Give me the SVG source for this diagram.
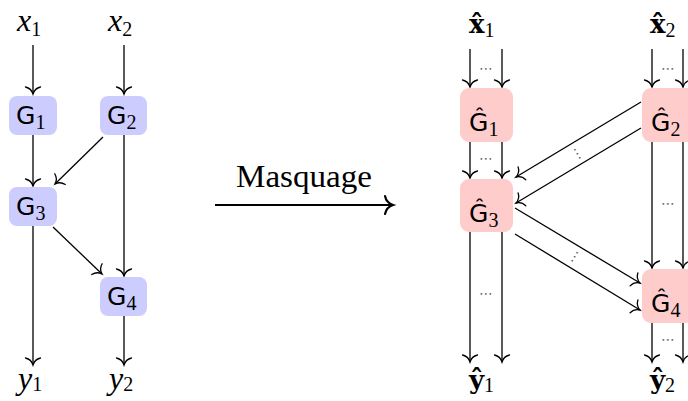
<svg xmlns="http://www.w3.org/2000/svg" width="688" height="401" viewBox="0 0 688 401">
<style>
.bg{fill:#fff}
.e{fill:none;stroke:#000;stroke-width:1.3;marker-end:url(#to)}
.big{fill:none;stroke:#000;stroke-width:2.2;marker-end:url(#tob)}
.bl{fill:#ccccff}
.rd{fill:#ffcccc}
.m{font-family:"Liberation Serif",serif;font-style:italic;font-size:32px;fill:#000}
.n{font-family:"Liberation Serif",serif;font-size:20px;fill:#000;font-style:normal;font-weight:normal}
.g{font-family:"DejaVu Sans",sans-serif;font-size:25px;fill:#000}
.b{font-family:"DejaVu Serif",serif;font-weight:bold;font-size:26px;fill:#000}
.d{font-family:"DejaVu Sans",sans-serif;font-size:14px;fill:#666;text-anchor:middle}
.t{font-family:"Liberation Serif",serif;font-size:32px;fill:#000;text-anchor:middle}
</style>
<defs>
<marker id="to" markerUnits="userSpaceOnUse" markerWidth="20" markerHeight="20" refX="0" refY="0" orient="auto" viewBox="-10 -10 20 20" overflow="visible">
<path d="M-7 -7.5 C-6 -3.2 -2.7 -0.8 0 0 C-2.7 0.8 -6 3.2 -7 7.5" fill="none" stroke="#000" stroke-width="1.3" stroke-linecap="round"/>
</marker>
<marker id="tob" markerUnits="userSpaceOnUse" markerWidth="24" markerHeight="24" refX="0" refY="0" orient="auto" viewBox="-12 -12 24 24" overflow="visible">
<path d="M-8 -9 C-7 -4 -3 -1 0 0 C-3 1 -7 4 -8 9" fill="none" stroke="#000" stroke-width="2.2" stroke-linecap="round"/>
</marker>
</defs>
<rect class="bg" x="0" y="0" width="688" height="401"/>

<g id="connectors">
<path class="e" d="M33 45V94"/>
<path class="e" d="M124 45V94"/>
<path class="e" d="M33 135V186"/>
<path class="e" d="M103 137L55 184"/>
<path class="e" d="M124 135V276"/>
<path class="e" d="M53 227L102 274"/>
<path class="e" d="M33 226V365"/>
<path class="e" d="M124 316V365"/>
<path class="big" d="M215 205H393"/>
<path class="e" d="M470 49V87"/><path class="e" d="M502 49V87"/>
<path class="e" d="M652 49V87"/><path class="e" d="M683 49V87"/>
<path class="e" d="M470 142V178"/><path class="e" d="M502 142V178"/>
<path class="e" d="M641 102L516 177"/><path class="e" d="M641 128L516 203"/>
<path class="e" d="M515 208L640 283"/><path class="e" d="M515 234L640 310"/>
<path class="e" d="M652 142V268"/><path class="e" d="M683 142V268"/>
<path class="e" d="M470 232V362"/><path class="e" d="M502 232V362"/>
<path class="e" d="M652 323V362"/><path class="e" d="M683 323V362"/>
<text class="d" x="486" y="73">⋯</text>
<text class="d" x="668" y="73">⋯</text>
<text class="d" x="486" y="163">⋯</text>
<text class="d" x="668" y="208">⋯</text>
<text class="d" x="486" y="298">⋯</text>
<text class="d" x="668" y="344">⋯</text>
<text class="d" x="0" y="4" transform="translate(577 154) rotate(59)">⋯</text>
<text class="d" x="0" y="4" transform="translate(575 257) rotate(-59)">⋯</text>
</g>

<g id="x1"><text class="m" x="17" y="31">x<tspan class="n" dy="5">1</tspan></text></g>
<g id="x2"><text class="m" x="108" y="31">x<tspan class="n" dy="5">2</tspan></text></g>
<g id="y1"><text class="m" x="18" y="389">y<tspan class="n" dy="2">1</tspan></text></g>
<g id="y2"><text class="m" x="109" y="389">y<tspan class="n" dy="2">2</tspan></text></g>

<g id="G1"><rect class="bl" x="9" y="96" width="48" height="39" rx="8"/><text class="g" x="16" y="124">G<tspan class="n" dy="5">1</tspan></text></g>
<g id="G2"><rect class="bl" x="100" y="96" width="47" height="39" rx="8"/><text class="g" x="107" y="124">G<tspan class="n" dy="5">2</tspan></text></g>
<g id="G3"><rect class="bl" x="9" y="187" width="48" height="39" rx="8"/><text class="g" x="16" y="215">G<tspan class="n" dy="5">3</tspan></text></g>
<g id="G4"><rect class="bl" x="100" y="277" width="47" height="39" rx="8"/><text class="g" x="107" y="305">G<tspan class="n" dy="5">4</tspan></text></g>

<g id="masquage"><text class="t" x="304" y="187" textLength="136" lengthAdjust="spacingAndGlyphs">Masquage</text></g>

<g id="xh1"><text class="b" x="469" y="33">x̂<tspan class="n" dy="4">1</tspan></text></g>
<g id="xh2"><text class="b" x="650" y="33">x̂<tspan class="n" dy="4">2</tspan></text></g>
<g id="yh1"><text class="b" x="469" y="389">ŷ<tspan class="n" dy="3">1</tspan></text></g>
<g id="yh2"><text class="b" x="650" y="389">ŷ<tspan class="n" dy="3">2</tspan></text></g>

<g id="Gh1"><rect class="rd" x="460" y="88" width="53" height="54" rx="9"/><text class="g" x="469" y="131">Ĝ<tspan class="n" dy="5">1</tspan></text></g>
<g id="Gh2"><rect class="rd" x="642" y="88" width="53" height="54" rx="9"/><text class="g" x="651" y="131">Ĝ<tspan class="n" dy="5">2</tspan></text></g>
<g id="Gh3"><rect class="rd" x="460" y="179" width="53" height="53" rx="9"/><text class="g" x="469" y="222">Ĝ<tspan class="n" dy="5">3</tspan></text></g>
<g id="Gh4"><rect class="rd" x="642" y="269" width="53" height="54" rx="9"/><text class="g" x="651" y="312">Ĝ<tspan class="n" dy="5">4</tspan></text></g>
</svg>
